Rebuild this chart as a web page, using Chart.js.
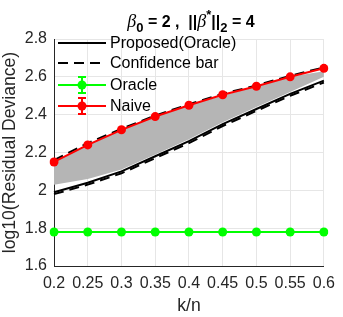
<!DOCTYPE html>
<html>
<head>
<meta charset="utf-8">
<script src="https://cdn.jsdelivr.net/npm/chart.js@4.4.1/dist/chart.umd.min.js"></script>
<style>
  html, body { margin: 0; padding: 0; background: #fff; }
  #wrap { width: 343px; height: 317px; }
</style>
</head>
<body>
<div id="wrap"><canvas id="chart" width="343" height="317"></canvas></div>
<script>
// values
const kn = ['0.2', '0.25', '0.3', '0.35', '0.4', '0.45', '0.5', '0.55', '0.6'];
const yTicks = [1.6, 1.8, 2.0, 2.2, 2.4, 2.6, 2.8];

const proposed = [1.99, 2.04, 2.10, 2.18, 2.26, 2.35, 2.43, 2.51, 2.58];
const confUpper = [2.16, 2.25, 2.325, 2.395, 2.455, 2.51, 2.555, 2.605, 2.65];
const confLower = [1.98, 2.03, 2.09, 2.17, 2.25, 2.34, 2.42, 2.50, 2.57];
const bandLower = [2.03, 2.06, 2.11, 2.19, 2.27, 2.36, 2.44, 2.52, 2.60];
const bandUpper = [2.15, 2.24, 2.32, 2.39, 2.45, 2.50, 2.55, 2.60, 2.63];
const oracle = [1.78, 1.78, 1.78, 1.78, 1.78, 1.78, 1.78, 1.78, 1.78];
const naive = [2.15, 2.24, 2.32, 2.39, 2.45, 2.505, 2.55, 2.60, 2.645];

const FONT = "'Liberation Sans', Arial, Helvetica, sans-serif";
const SERIF = "'Liberation Serif', 'Times New Roman', serif";
const AXIS_COLOR = '#262626';
const GRID_COLOR = '#e6e6e6';

Chart.defaults.font.family = FONT;
Chart.defaults.font.size = 16;
Chart.defaults.color = AXIS_COLOR;

// title with sub/superscripts, drawn as text pieces
const titlePlugin = {
    id: 'mtitle',
    afterDraw(chart) {
        const ctx = chart.ctx;
        const area = chart.chartArea;
        const big = 'bold 16px ' + FONT;
        const small = 'bold 13px ' + FONT;
        const greek = 'italic 18px ' + SERIF;
        const parts = [
            { t: '\u03b2', f: greek, dy: 0 },
            { t: '0', f: small, dy: 5 },
            { t: ' = 2 ,  ||', f: big, dy: 0 },
            { t: '\u03b2', f: greek, dy: 0 },
            { t: '*', f: small, dy: -8 },
            { t: '||', f: big, dy: 0 },
            { t: '2', f: small, dy: 5 },
            { t: ' = 4', f: big, dy: 0 }
        ];
        ctx.save();
        let total = 0;
        parts.forEach(p => { ctx.font = p.f; p.w = ctx.measureText(p.t).width; total += p.w; });
        let x = (area.left + area.right) / 2 - total / 2 + 2;
        const base = area.top - 12;
        ctx.fillStyle = '#000';
        ctx.textBaseline = 'alphabetic';
        ctx.textAlign = 'left';
        parts.forEach(p => {
            ctx.font = p.f;
            ctx.fillText(p.t, x, base + p.dy);
            x += p.w;
        });
        ctx.restore();
    }
};

// MATLAB-style legend inside the axes, no box
const legendPlugin = {
    id: 'mlegend',
    afterDraw(chart) {
        const ctx = chart.ctx;
        const area = chart.chartArea;
        const x0 = area.left + 4, x1 = area.left + 52, xt = area.left + 56;
        const xm = (x0 + x1) / 2;
        const rows = [
            { label: 'Proposed(Oracle)', color: '#000', dash: [], marker: false, y: area.top + 4 },
            { label: 'Confidence bar', color: '#000', dash: [10, 6], marker: false, y: area.top + 24 },
            { label: 'Oracle', color: '#00ff00', dash: [], marker: true, y: area.top + 46 },
            { label: 'Naive', color: '#ff0000', dash: [], marker: true, y: area.top + 67 }
        ];
        ctx.save();
        rows.forEach(r => {
            ctx.strokeStyle = r.color;
            ctx.lineWidth = 2;
            ctx.setLineDash(r.dash);
            ctx.beginPath();
            ctx.moveTo(x0, r.y);
            ctx.lineTo(x1, r.y);
            ctx.stroke();
            ctx.setLineDash([]);
            if (r.marker) {
                ctx.beginPath();
                ctx.moveTo(xm, r.y - 8); ctx.lineTo(xm, r.y + 8);
                ctx.moveTo(xm - 4, r.y - 8); ctx.lineTo(xm + 4, r.y - 8);
                ctx.moveTo(xm - 4, r.y + 8); ctx.lineTo(xm + 4, r.y + 8);
                ctx.stroke();
                ctx.fillStyle = r.color;
                ctx.beginPath();
                ctx.arc(xm, r.y, 4.5, 0, Math.PI * 2);
                ctx.fill();
            }
            ctx.fillStyle = '#000';
            ctx.font = '16px ' + FONT;
            ctx.textBaseline = 'middle';
            ctx.textAlign = 'left';
            ctx.fillText(r.label, xt, r.y + 1);
        });
        ctx.restore();
    }
};

new Chart(document.getElementById('chart'), {
    type: 'line',
    data: {
        labels: kn,
        datasets: [
            { label: 'Naive', data: naive, borderColor: '#ff0000', backgroundColor: '#ff0000',
              borderWidth: 2, pointRadius: 4.5, pointBorderWidth: 0, order: 0 },
            { label: 'Oracle', data: oracle, borderColor: '#00ff00', backgroundColor: '#00ff00',
              borderWidth: 2, pointRadius: 4.5, pointBorderWidth: 0, order: 1 },
            { label: 'Proposed(Oracle)', data: proposed, borderColor: '#000', borderWidth: 2,
              pointRadius: 0, order: 2 },
            { label: 'Confidence upper', data: confUpper, borderColor: '#000', borderWidth: 2,
              borderDash: [10, 6], pointRadius: 0, order: 3 },
            { label: 'Confidence lower', data: confLower, borderColor: '#000', borderWidth: 2,
              borderDash: [10, 6], pointRadius: 0, order: 3 },
            { label: 'band low', data: bandLower, borderWidth: 0, borderColor: 'rgba(0,0,0,0)',
              pointRadius: 0, order: 5 },
            { label: 'band high', data: bandUpper, borderWidth: 0, borderColor: 'rgba(0,0,0,0)',
              backgroundColor: '#b5b5b5', fill: '-1', pointRadius: 0, order: 4 }
        ]
    },
    options: {
        responsive: false,
        animation: false,
        layout: { padding: { top: 39, right: 15, left: 0, bottom: 0 } },
        plugins: {
            legend: { display: false },
            title: { display: false },
            tooltip: { enabled: false }
        },
        elements: { line: { tension: 0 } },
        scales: {
            x: {
                type: 'category',
                offset: false,
                grid: { color: GRID_COLOR, drawTicks: false },
                border: { color: AXIS_COLOR, width: 1 },
                ticks: { padding: 8, maxRotation: 0, autoSkip: false, color: AXIS_COLOR },
                title: { display: true, text: 'k/n', color: AXIS_COLOR, font: { size: 17.6 },
                         padding: { top: 0, bottom: 0 } },
                afterFit(s) { s.height = 51; }
            },
            y: {
                min: yTicks[0],
                max: yTicks[yTicks.length - 1],
                grid: { color: GRID_COLOR, drawTicks: false },
                border: { color: AXIS_COLOR, width: 1 },
                afterBuildTicks(s) { s.ticks = yTicks.map(v => ({ value: v })); },
                ticks: {
                    padding: 7,
                    color: AXIS_COLOR,
                    callback: v => String(parseFloat(Number(v).toFixed(2)))
                },
                title: { display: true, text: 'log10(Residual Deviance)', color: AXIS_COLOR,
                         font: { size: 17.6 }, padding: { top: 0, bottom: 0 } },
                afterFit(s) { s.width = 54; }
            }
        }
    },
    plugins: [titlePlugin, legendPlugin]
});
</script>
</body>
</html>
